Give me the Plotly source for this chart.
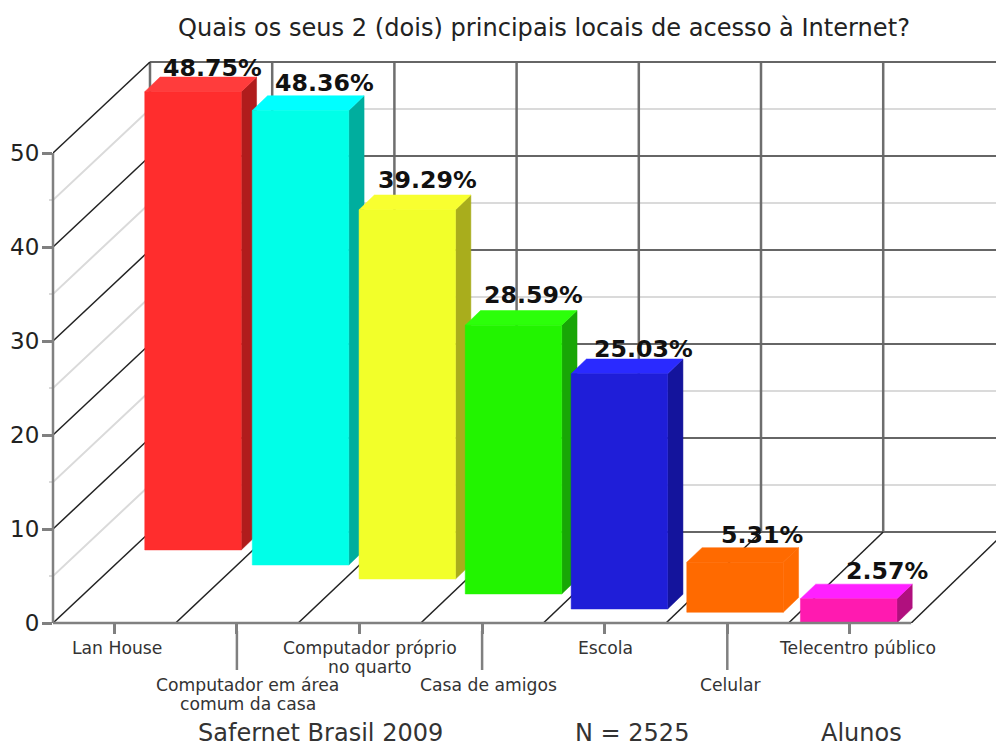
import plotly.graph_objects as go

# ---- data ----
categories = ["Lan House", "Computador em área<br>comum da casa", "Computador próprio<br>no quarto",
              "Casa de amigos", "Escola", "Celular", "Telecentro público"]
values = [48.75, 48.36, 39.29, 28.59, 25.03, 5.31, 2.57]
value_labels = ["48.75%", "48.36%", "39.29%", "28.59%", "25.03%", "5.31%", "2.57%"]
y_ticks = [0, 10, 20, 30, 40, 50]
y_minor = [5, 15, 25, 35, 45]
title = "Quais os seus 2 (dois) principais locais de acesso à Internet?"
footer = ["Safernet Brasil 2009", "N = 2525", "Alunos"]

# ---- colours ----
front = ["#ff2d2d", "#00ffe8", "#f2ff2a", "#22f400", "#1f1ed8", "#ff6a00", "#ff1ab0"]
top = ["#ff3c3c", "#00ffff", "#f8ff30", "#2cff0a", "#2a2aff", "#ff6a00", "#ff20ff"]
side = ["#b01c1c", "#00ae9e", "#a9ad1c", "#18a606", "#14149c", "#ff6a00", "#b0107e"]

# ---- pseudo-3D geometry, in axis units ----
SLOT_PX, UNIT_PX = 122.6, 9.4
X0_PX, Y0_PX = 53, 623
WALL_DX, WALL_DY = 97 / SLOT_PX, 91 / UNIT_PX
BACK_STEP = 122.2 / SLOT_PX
BAR_W = 96.5 / SLOT_PX
BAR_DX, BAR_DY = 15.3 / SLOT_PX, 14.7 / UNIT_PX
bar_shift = [0.642, 0.519, 0.39, 0.256, 0.12, 0.063, -0.01]
bar_lift = [7.77, 6.17, 4.68, 3.09, 1.49, 1.14, 0.0]
label_dx = [19, 24, 20, 20, 24, 27, 38]
label_dy = [24, 27, 30, 30, 25, 27, 28]
cat_dx = [3, 11, 10, 6, 1, 4, 8]
cat_row = [0, 1, 0, 1, 0, 1, 0]
footer_px = [320, 632, 861]

XMAX = (996 - X0_PX) / SLOT_PX
YMAX = Y0_PX / UNIT_PX
n = len(values)
AXIS = dict(color="#808080", width=2.5)

fig = go.Figure()


def line(xs, ys, color, width):
    fig.add_trace(go.Scatter(x=xs, y=ys, mode="lines", line=dict(color=color, width=width),
                             hoverinfo="skip", showlegend=False))


def poly(xs, ys, color):
    fig.add_trace(go.Scatter(x=xs + xs[:1], y=ys + ys[:1], mode="lines", fill="toself",
                             fillcolor=color, line=dict(color=color, width=0.5),
                             hoverinfo="skip", showlegend=False))


# back wall and left wall: minor
for v in y_minor:
    line([0, WALL_DX, XMAX], [v, v + WALL_DY, v + WALL_DY], "#dadada", 2)
# back wall verticals
for i in range(n + 1):
    line([WALL_DX + i * BACK_STEP] * 2, [WALL_DY, 50 + WALL_DY], "#6e6e6e", 2.5)
# major
for v in y_ticks:
    line([WALL_DX, XMAX], [v + WALL_DY] * 2, "#666666", 2.2)
    line([0, WALL_DX], [v, v + WALL_DY], "#222222", 1.5)
# floor lines
for i in range(1, n + 1):
    line([i, WALL_DX + i * BACK_STEP], [0, WALL_DY], "#222222", 1.5)

# bars, back to front
for i in range(n):
    xl = i + 0.5 + bar_shift[i] - BAR_W / 2
    xr = xl + BAR_W
    yb = bar_lift[i]
    yt = yb + values[i]
    poly([xr, xr + BAR_DX, xr + BAR_DX, xr], [yb, yb + BAR_DY, yt + BAR_DY, yt], side[i])
    poly([xl, xl + BAR_DX, xr + BAR_DX, xr], [yt, yt + BAR_DY, yt + BAR_DY, yt], top[i])
    poly([xl, xr, xr, xl], [yb, yb, yt, yt], front[i])

# axis lines: a paper reference on one side keeps them unclipped on that side
shapes = [
    dict(type="line", xref="paper", yref="y", x0=0, x1=0, y0=0, y1=50, line=AXIS),
    dict(type="line", xref="x", yref="paper", x0=0, x1=n, y0=0, y1=0, line=AXIS),
]

annotations = []
for i in range(n):
    annotations.append(dict(x=i + 0.5 + bar_shift[i], y=bar_lift[i] + values[i],
                            text="<b>" + value_labels[i] + "</b>",
                            xshift=label_dx[i], yshift=label_dy[i], showarrow=False,
                            font=dict(family="DejaVu Sans", size=23.7, color="#111111"),
                            xanchor="center", yanchor="middle"))
    for k, part in enumerate(categories[i].split("<br>")):
        annotations.append(dict(x=i + 0.5, y=0, text=part, xshift=cat_dx[i],
                                yshift=-25 - 37 * cat_row[i] - 18.5 * k, showarrow=False,
                                font=dict(family="DejaVu Sans", size=17.2, color="#333333"),
                                xanchor="center", yanchor="middle"))
    # every other category tick runs on further down
    if cat_row[i]:
        shapes.append(dict(type="line", xref="x", yref="paper", x0=i + 0.5, x1=i + 0.5,
                           y0=-8 / Y0_PX, y1=-47 / Y0_PX, line=AXIS))

for t, px in zip(footer, footer_px):
    annotations.append(dict(x=(px - X0_PX) / SLOT_PX, y=0, yshift=-110, text=t, showarrow=False,
                            borderpad=0,
                            font=dict(family="DejaVu Sans", size=24, color="#333333"),
                            xanchor="center", yanchor="middle"))

fig.update_layout(
    width=996, height=747,
    margin=dict(l=X0_PX, r=0, t=0, b=747 - Y0_PX, pad=0),
    paper_bgcolor="white", plot_bgcolor="white", showlegend=False,
    title=dict(text=title, x=544 / 996, xanchor="center", y=1 - 28 / 747, yanchor="middle",
               font=dict(family="DejaVu Sans", size=24.1, color="#222222")),
    annotations=annotations, shapes=shapes,
    xaxis=dict(range=[0, XMAX], showgrid=False, zeroline=False, showline=False,
               showticklabels=False, tickmode="array", tickvals=[i + 0.5 for i in range(n)],
               ticks="outside", ticklen=10, tickwidth=2.5, tickcolor="#808080"),
    yaxis=dict(range=[0, YMAX], showgrid=False, zeroline=False, showline=False,
               tickmode="array", tickvals=y_ticks, ticks="outside", ticklen=10, tickwidth=2.5,
               tickcolor="#808080", ticklabelstandoff=-2,
               tickfont=dict(family="DejaVu Sans", size=23, color="#222222"),
               minor=dict(tickmode="array", tickvals=y_minor, ticks="outside", ticklen=3,
                          tickcolor="#dadada", tickwidth=2)),
)

fig.write_html("out.html", post_script="document.body.style.margin='0';",
               config=dict(displayModeBar=False))
